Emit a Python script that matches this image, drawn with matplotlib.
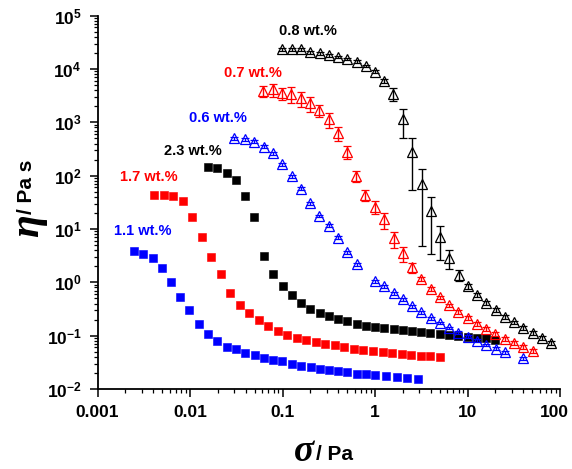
"""Viscosity vs shear stress flow curves for several concentrations."""

import matplotlib

matplotlib.use("Agg")
import matplotlib.pyplot as plt
from matplotlib.transforms import ScaledTranslation
from matplotlib.ticker import FixedLocator, FuncFormatter, LogLocator, NullFormatter

# ---- data (stress in Pa, viscosity in Pa s) ----
sq_11_x = [0.00246, 0.00313, 0.00395, 0.00498, 0.00624, 0.00785, 0.00982, 0.0125,
           0.0157, 0.0197, 0.0249, 0.0314, 0.0394, 0.0500, 0.0627, 0.0788, 0.0995,
           0.128, 0.160, 0.202, 0.252, 0.318, 0.401, 0.502, 0.634, 0.80, 1.01,
           1.31, 1.72, 2.23, 2.92]
sq_11_y = [3.85, 3.43, 2.88, 1.85, 1.01, 0.527, 0.305, 0.166, 0.107, 0.0798, 0.0617,
           0.0551, 0.0475, 0.0425, 0.0378, 0.0357, 0.0333, 0.0296, 0.0271, 0.0256,
           0.0238, 0.0225, 0.0216, 0.0204, 0.0195, 0.0190, 0.0184, 0.0179, 0.0169,
           0.0164, 0.0157]

sq_17_x = [0.00411, 0.0052, 0.00655, 0.00839, 0.0106, 0.0135, 0.0170, 0.0216, 0.0273,
           0.0344, 0.0437, 0.0553, 0.0702, 0.0887, 0.112, 0.143, 0.179, 0.229, 0.290,
           0.366, 0.466, 0.593, 0.748, 0.95, 1.21, 1.53, 1.95, 2.47, 3.12, 3.96, 5.05]
sq_17_y = [43.8, 43.8, 40.9, 33.4, 16.7, 6.95, 3.01, 1.43, 0.635, 0.369, 0.261, 0.193,
           0.151, 0.123, 0.105, 0.091, 0.0834, 0.0765, 0.0702, 0.0655, 0.0617, 0.0565,
           0.0535, 0.0512, 0.049, 0.047, 0.045, 0.043, 0.0418, 0.0412, 0.040]

sq_23_x = [0.0158, 0.0197, 0.0249, 0.0314, 0.0396, 0.0496, 0.0627, 0.0788, 0.100,
           0.127, 0.158, 0.200, 0.252, 0.318, 0.401, 0.502, 0.634, 0.80, 1.01, 1.26,
           1.59, 2.01, 2.51, 3.17, 3.96, 5.0, 6.31, 7.96, 10.0, 12.6, 15.8, 19.8]
sq_23_y = [145, 141, 113, 81.6, 40.9, 16.7, 3.10, 1.44, 0.86, 0.582, 0.402, 0.318,
           0.261, 0.229, 0.201, 0.185, 0.166, 0.153, 0.146, 0.138, 0.132, 0.127, 0.120,
           0.115, 0.110, 0.107, 0.101, 0.098, 0.095, 0.092, 0.0885, 0.0813]

tri_06_x = [0.0301, 0.039, 0.0496, 0.0627, 0.0788, 0.0995, 0.127, 0.160, 0.200, 0.250,
            0.315, 0.398, 0.502, 0.634, 1.00, 1.26, 1.59, 2.01, 2.51, 3.17, 4.00, 5.05,
            6.36, 7.96, 10.0, 12.7, 16.0, 20.2, 25.2, 40.1]
tri_06_y = [501, 480, 433, 349, 262, 165, 98.2, 56.8, 30.2, 17.5, 11.5, 6.84, 3.64,
            2.17, 1.05, 0.849, 0.619, 0.478, 0.357, 0.272, 0.210, 0.172, 0.140, 0.113,
            0.095, 0.080, 0.0671, 0.0565, 0.0484, 0.0373]
tri_06_err = [30, 30, 26, 21, 16, 10, 6, 3.4, 1.8, 1.0, 0.7, 0.4, 0.22, 0.13, 0.06,
              0.05, 0.04, 0.03, 0.02, 0.016, 0.013, 0.01, 0.008, 0.007, 0.006, 0.005,
              0.004, 0.0035, 0.003, 0.0022]

tri_07_x = [0.0619, 0.0783, 0.0989, 0.124, 0.157, 0.198, 0.250, 0.315, 0.396, 0.494,
            0.624, 0.786, 0.993, 1.26, 1.59, 1.99, 2.51, 3.17, 4.00, 5.05, 6.36, 7.96,
            10.0, 12.7, 15.9, 20.0, 25.2, 31.8, 40.1, 50.7]
tri_07_y = [3920, 4160, 3500, 3400, 2820, 2270, 1700, 1140, 638, 281, 99.5, 43.3, 26.1,
            15.1, 6.67, 3.48, 1.90, 1.16, 0.755, 0.521, 0.369, 0.276, 0.213, 0.168,
            0.134, 0.107, 0.0867, 0.0733, 0.0614, 0.0523]
tri_07_err = [950, 1140, 920, 1130, 850, 715, 450, 350, 185, 73, 22, 10, 6.7, 5.1, 2.3,
              1.1, 0.4, 0.1, 0.06, 0.04, 0.03, 0.022, 0.017, 0.013, 0.01, 0.008, 0.007,
              0.006, 0.005, 0.004]

tri_08_x = [0.0995, 0.126, 0.158, 0.200, 0.252, 0.318, 0.398, 0.502, 0.634, 0.80, 1.01,
            1.26, 1.58, 2.00, 2.52, 3.18, 4.00, 5.06, 6.36, 8.03, 10.0, 12.7, 16.0,
            20.2, 25.3, 31.9, 40.1, 50.7, 63.8, 80.4]
tri_08_y = [23700, 23700, 23700, 20800, 19700, 18100, 16800, 15400, 13700, 11400, 8900,
            6030, 3400, 1153, 277, 68.7, 21.4, 7.05, 2.87, 1.38, 0.838, 0.575, 0.407,
            0.301, 0.227, 0.177, 0.138, 0.111, 0.0897, 0.0723]
tri_08_err = [1500, 1500, 1500, 1300, 1200, 1100, 1000, 900, 800, 700, 600, 500, 940,
              640, 222, 64, 18, 4.4, 1.1, 0.32, 0.08, 0.05, 0.035, 0.025, 0.02, 0.015,
              0.012, 0.01, 0.008, 0.006]

labels = ["1.1 wt.%", "1.7 wt.%", "2.3 wt.%", "0.6 wt.%", "0.7 wt.%", "0.8 wt.%"]
label_x = [0.0031, 0.0036, 0.0108, 0.0201, 0.0475, 0.186]
label_y = [9.1, 94, 290, 1205, 8410, 51600]

x_ticks = [0.001, 0.01, 0.1, 1, 10, 100]
x_tick_labels = ["0.001", "0.01", "0.1", "1", "10", "100"]

BLUE, RED, BLACK = "#0000ff", "#ff0000", "#000000"
label_colors = [BLUE, RED, BLACK, BLUE, RED, BLACK]

plt.rcParams["font.family"] = ["Liberation Sans", "DejaVu Sans"]
plt.rcParams["font.weight"] = "bold"

fig = plt.figure(figsize=(5.72, 4.69), dpi=100)
ax = fig.add_axes([0.1705, 0.1706, 0.8086, 0.796])

for xs, ys, color in [(sq_11_x, sq_11_y, BLUE), (sq_17_x, sq_17_y, RED),
                      (sq_23_x, sq_23_y, BLACK)]:
    ax.plot(xs, ys, ls="none", marker="s", ms=5.6, mfc=color, mec=color, mew=0.4,
            zorder=3)

for xs, ys, errs, color in [(tri_06_x, tri_06_y, tri_06_err, BLUE),
                            (tri_07_x, tri_07_y, tri_07_err, RED),
                            (tri_08_x, tri_08_y, tri_08_err, BLACK)]:
    ax.errorbar(xs, ys, yerr=errs, ls="none", marker="^", ms=7.2, mfc="none",
                mec=color, mew=0.9, ecolor=color, elinewidth=1.0, capsize=3.2,
                capthick=1.0, zorder=4)

for text, lx, ly, color in zip(labels, label_x, label_y, label_colors):
    ax.text(lx, ly, text, color=color, fontsize=10.5, fontweight="bold",
            ha="center", va="center")

ax.set_xscale("log")
ax.set_yscale("log")
ax.set_xlim(0.001, 100)
ax.set_ylim(1e-2, 1e5)

ax.xaxis.set_major_locator(FixedLocator(x_ticks))
ax.xaxis.set_major_formatter(FuncFormatter(lambda v, pos: x_tick_labels[pos]))
ax.xaxis.set_minor_locator(LogLocator(base=10, subs=range(2, 10), numticks=20))
ax.xaxis.set_minor_formatter(NullFormatter())
ax.yaxis.set_major_locator(LogLocator(base=10, numticks=20))
ax.yaxis.set_minor_locator(LogLocator(base=10, subs=range(2, 10), numticks=20))
ax.yaxis.set_minor_formatter(NullFormatter())

for side in ["top", "right"]:
    ax.spines[side].set_visible(False)
for side in ["left", "bottom"]:
    ax.spines[side].set_linewidth(1.3)

ax.tick_params(which="major", direction="out", length=5.5, width=1.1,
               labelsize=12.5, pad=6)
ax.tick_params(which="minor", direction="out", length=3, width=0.9)
for lbl in ax.get_xticklabels() + ax.get_yticklabels():
    lbl.set_fontweight("bold")

# nudge the last x tick label left so it stays inside the canvas
fig.canvas.draw()
last = ax.get_xticklabels()[-1]
last.set_transform(last.get_transform()
                   + ScaledTranslation(-4 / 72, 0, fig.dpi_scale_trans))

# axis titles: large italic greek symbol followed by the unit
fig.text(28 / 572, 1 - 226 / 469, "η", rotation=90, fontsize=30, style="italic",
         fontweight="bold", family="Liberation Serif", ha="center", va="center")
fig.text(27 / 572, 1 - 214 / 469, "/ Pa s", rotation=90, fontsize=15,
         fontweight="bold", ha="center", va="bottom")
fig.text(304 / 572, 1 - 461 / 469, "σ", fontsize=27, style="italic",
         fontweight="bold", family="Liberation Serif", ha="center", va="baseline")
fig.text(316 / 572, 1 - 454 / 469, "/ Pa", fontsize=15, fontweight="bold",
         ha="left", va="center")

fig.savefig("out.png", dpi=100)
plt.close(fig)
